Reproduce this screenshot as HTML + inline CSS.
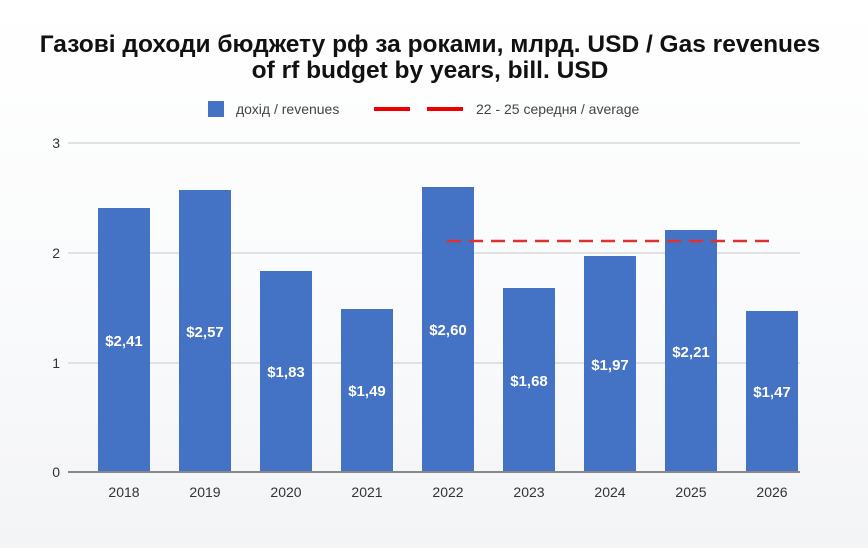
<!DOCTYPE html>
<html><head><meta charset="utf-8"><style>
body{margin:0;width:868px;height:548px;overflow:hidden;background:linear-gradient(#ffffff 0%,#f9fafb 60%,#f3f4f6 100%);font-family:"Liberation Sans","DejaVu Sans",sans-serif;}
</style></head><body>
<svg width="868" height="548" viewBox="0 0 868 548" xmlns="http://www.w3.org/2000/svg" font-family="Liberation Sans, DejaVu Sans, sans-serif">
<text x="430" y="52" text-anchor="middle" font-size="24.5" font-weight="bold" fill="#111">Газові доходи бюджету рф за роками, млрд. USD / Gas revenues</text>
<text x="430" y="78" text-anchor="middle" font-size="24.5" font-weight="bold" fill="#111">of rf budget by years, bill. USD</text>
<rect x="208" y="101" width="16" height="16" fill="#4472c4"/>
<text x="236" y="114" font-size="14" fill="#444">дохід / revenues</text>
<line x1="374" y1="109" x2="410" y2="109" stroke="#e00" stroke-width="4"/>
<line x1="427" y1="109" x2="463" y2="109" stroke="#e00" stroke-width="4"/>
<text x="476" y="114" font-size="14" fill="#444">22 - 25 середня / average</text>
<g stroke="#d9d9d9" stroke-width="1.5">
<line x1="68" y1="143" x2="800" y2="143"/><line x1="68" y1="253" x2="800" y2="253"/><line x1="68" y1="363" x2="800" y2="363"/>
</g>
<g font-size="14" fill="#333" text-anchor="end">
<text x="60" y="148">3</text><text x="60" y="258">2</text><text x="60" y="368">1</text><text x="60" y="477">0</text>
</g>
<g fill="#4472c4">
<rect x="98" y="208" width="52" height="264"/>
<rect x="179" y="190" width="52" height="282"/>
<rect x="260" y="271" width="52" height="201"/>
<rect x="341" y="309" width="52" height="163"/>
<rect x="422" y="187" width="52" height="285"/>
<rect x="503" y="288" width="52" height="184"/>
<rect x="584" y="256" width="52" height="216"/>
<rect x="665" y="230" width="52" height="242"/>
<rect x="746" y="311" width="52" height="161"/>
</g>
<line x1="447" y1="241" x2="772" y2="241" stroke="#e03030" stroke-width="2.5" stroke-dasharray="14,8"/>
<line x1="68" y1="472" x2="800" y2="472" stroke="#888" stroke-width="2"/>
<g font-size="15" font-weight="bold" fill="#fff" text-anchor="middle">
<text x="124" y="346">$2,41</text><text x="205" y="337">$2,57</text><text x="286" y="377">$1,83</text>
<text x="367" y="396">$1,49</text><text x="448" y="335">$2,60</text><text x="529" y="386">$1,68</text>
<text x="610" y="370">$1,97</text><text x="691" y="357">$2,21</text><text x="772" y="397">$1,47</text>
</g>
<g font-size="14" fill="#333" text-anchor="middle">
<text x="124" y="497">2018</text><text x="205" y="497">2019</text><text x="286" y="497">2020</text>
<text x="367" y="497">2021</text><text x="448" y="497">2022</text><text x="529" y="497">2023</text>
<text x="610" y="497">2024</text><text x="691" y="497">2025</text><text x="772" y="497">2026</text>
</g>
</svg>
</body></html>
